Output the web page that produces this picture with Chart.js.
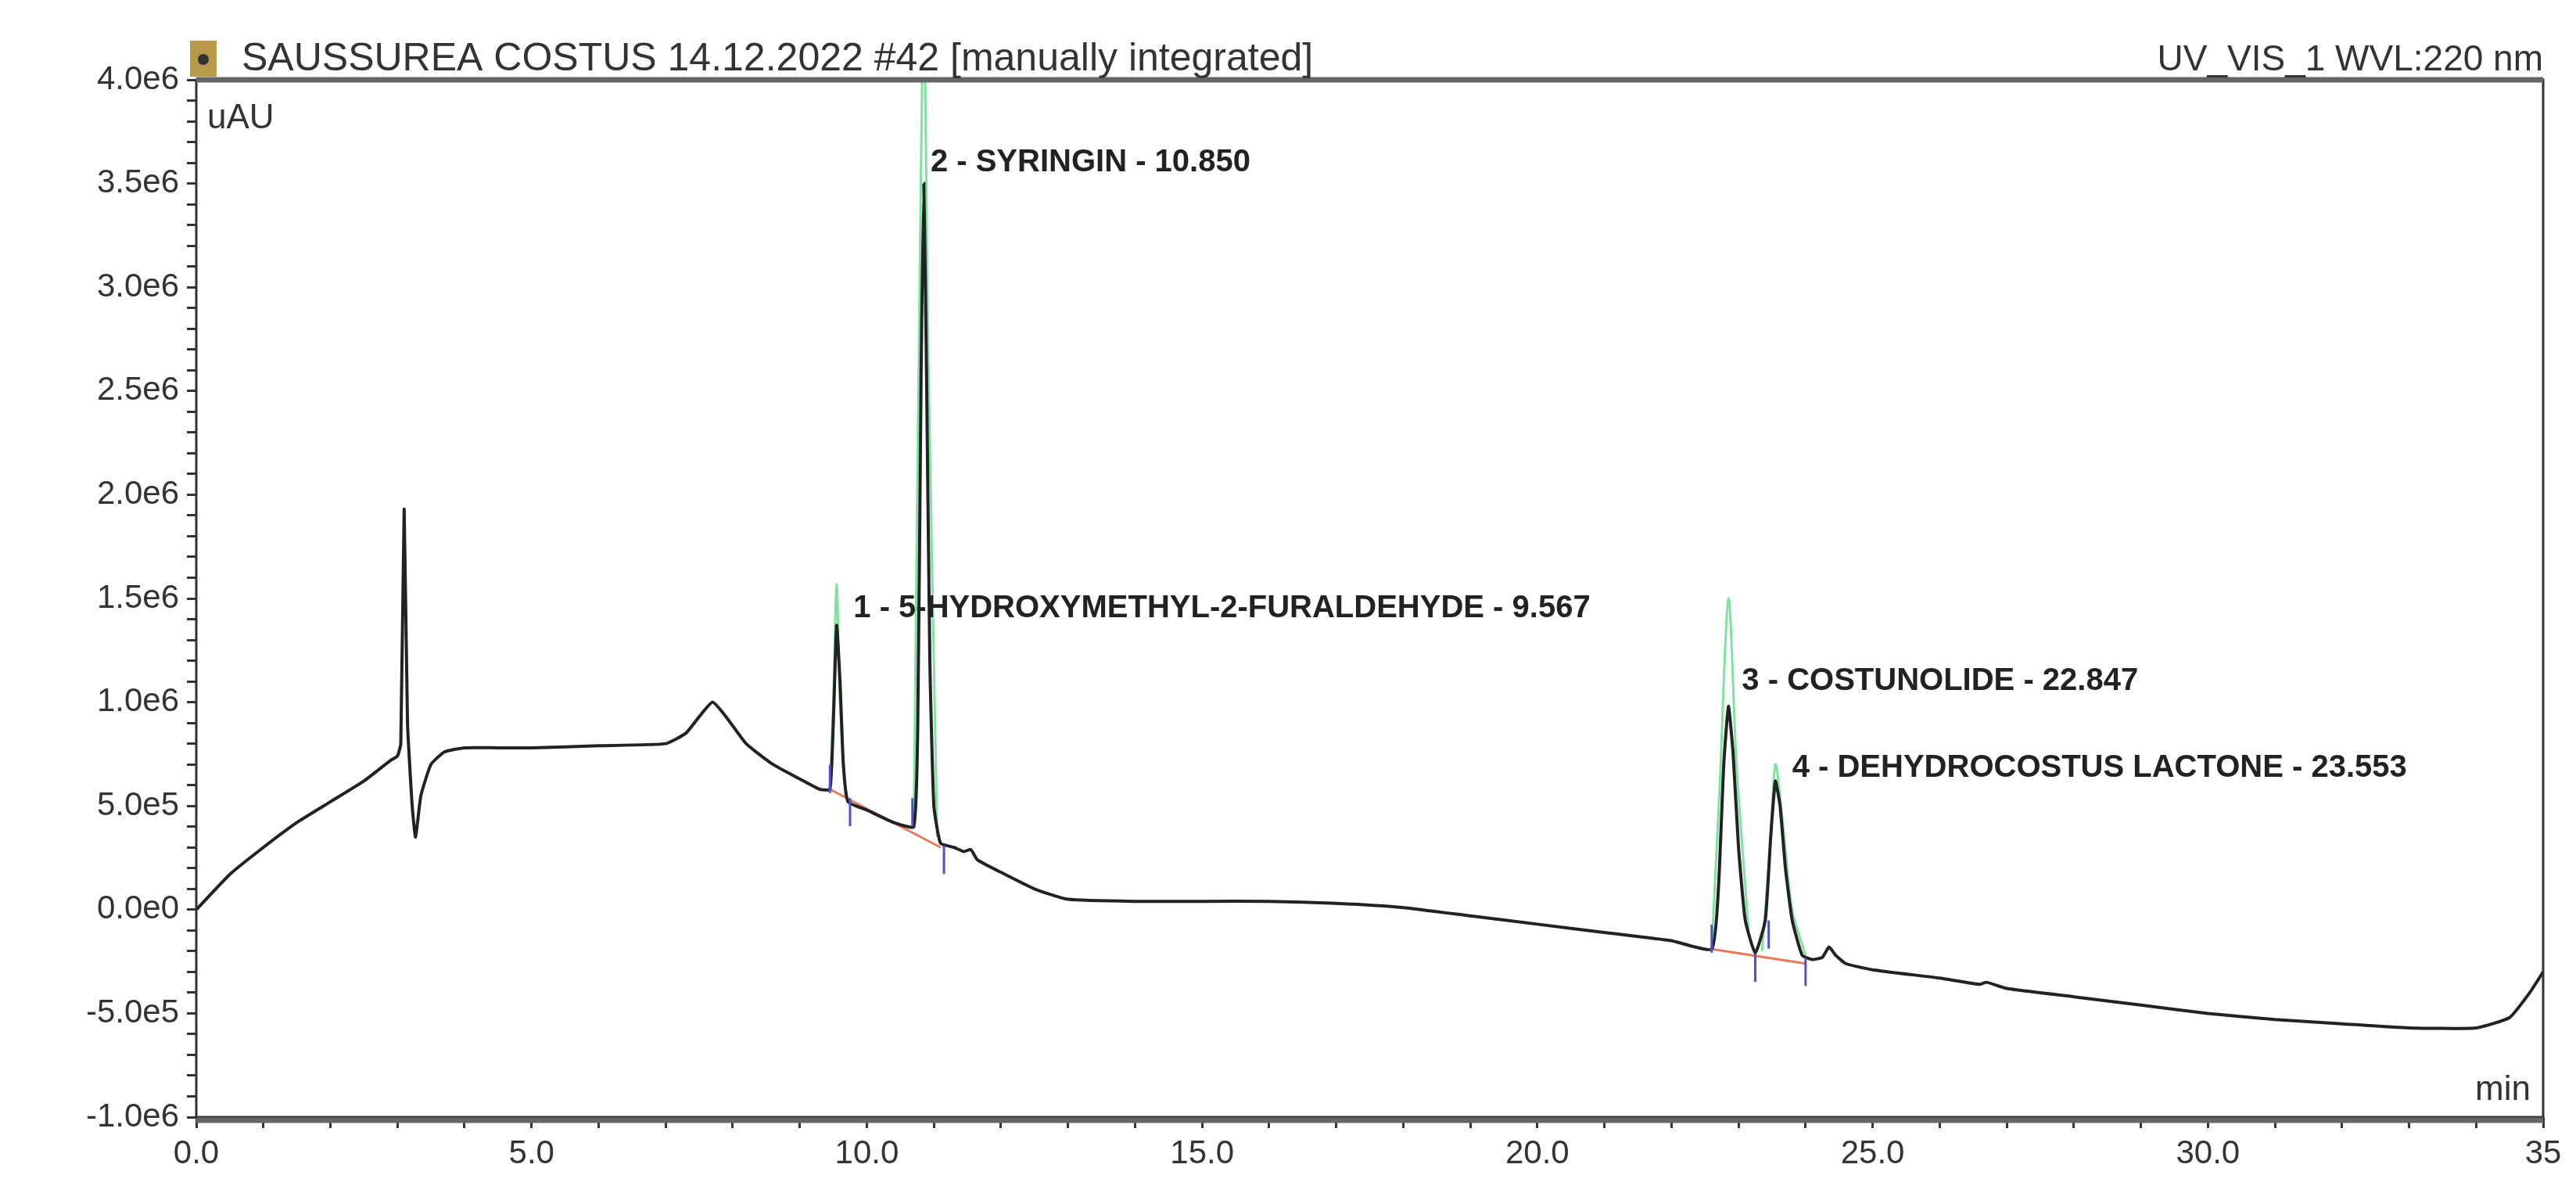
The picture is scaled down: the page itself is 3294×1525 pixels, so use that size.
<!DOCTYPE html>
<html>
<head>
<meta charset="utf-8">
<script src="https://cdn.jsdelivr.net/npm/chart.js@4.4.1/dist/chart.umd.min.js"></script>
<style>
  html, body { margin: 0; padding: 0; background: #fff; }
  #wrap { width: 3294px; height: 1525px; }
</style>
</head>
<body>
<div id="wrap"><canvas id="chrom"></canvas></div>
<script>
'use strict';

// ── Data (time in min, signal in 1e6 uAU) ───────────────────────────────────
var traceTime = [0, 0.5, 1.0, 1.5, 2.0, 2.5, 2.9, 3.0, 3.05, 3.1, 3.15, 3.22, 3.27, 3.35, 3.5, 3.7, 4.0, 4.5, 5, 6, 7, 7.3, 7.5, 7.7, 7.9, 8.2, 8.6, 9.0, 9.3, 9.45,
  9.5, 9.55, 9.6, 9.65, 9.72, 10.0, 10.4, 10.7, 10.76, 10.81, 10.85, 10.89, 10.94, 11.0, 11.1, 11.3, 11.45, 11.55, 11.65, 12, 12.5, 13, 14, 15, 16, 17, 18, 19, 20, 21, 22, 22.6,
  22.7, 22.78, 22.85, 22.92, 23.0, 23.1, 23.25, 23.4, 23.48, 23.55, 23.62, 23.7, 23.8, 23.95, 24.1, 24.25, 24.35, 24.45, 24.6, 25, 26, 26.6, 26.7, 27, 28, 29, 30, 31, 32, 33, 34, 34.5, 34.8, 35];
var traceSignal = [0, 0.17, 0.3, 0.42, 0.52, 0.62, 0.72, 0.74, 0.8, 1.93, 0.9, 0.5, 0.35, 0.55, 0.7, 0.76, 0.78, 0.78, 0.78, 0.79, 0.8, 0.85, 0.93, 1.0, 0.93, 0.8, 0.7, 0.63, 0.58, 0.58,
  0.9, 1.37, 1.1, 0.7, 0.52, 0.48, 0.42, 0.4, 0.9, 2.6, 3.5, 2.6, 1.2, 0.5, 0.32, 0.3, 0.28, 0.29, 0.24, 0.18, 0.1, 0.05, 0.04, 0.04, 0.04, 0.03, 0.01, -0.03, -0.07, -0.11, -0.15, -0.19,
  0.1, 0.7, 0.98, 0.75, 0.3, -0.05, -0.21, -0.05, 0.35, 0.62, 0.5, 0.2, -0.05, -0.22, -0.24, -0.23, -0.18, -0.22, -0.26, -0.29, -0.33, -0.36, -0.35, -0.38, -0.42, -0.46, -0.5, -0.53, -0.55, -0.57, -0.57, -0.52, -0.4, -0.3];

// fitted peaks (light green), null separates peaks
var fitTime   = [9.45, 9.5, 9.55, 9.6, 9.68, null, 10.7, 10.78, 10.85, 10.92, 11.05, null, 22.6, 22.72, 22.85, 22.97, 23.15, null, 23.35, 23.47, 23.55, 23.65, 23.8, 24.0];
var fitSignal = [0.58, 1.0, 1.57, 1.0, 0.55, null, 0.4, 2.8, 4.3, 2.6, 0.35, null, -0.19, 0.6, 1.5, 0.7, -0.1, null, -0.2, 0.3, 0.7, 0.45, 0.0, -0.22];

// integration baselines (red)
var baseTime   = [9.45, 11.1, null, 22.6, 24.0];
var baseSignal = [0.58, 0.3, null, -0.19, -0.26];

// peak delimiters (blue ticks)
var delimTime   = [9.45, 9.75, 10.68, 11.15, 22.6, 23.25, 23.45, 24.0];
var delimSignal = [0.63, 0.47, 0.47, 0.24, -0.14, -0.28, -0.12, -0.3];

var peakLabels = ['1 - 5-HYDROXYMETHYL-2-FURALDEHYDE - 9.567', '2 - SYRINGIN - 10.850', '3 - COSTUNOLIDE - 22.847', '4 - DEHYDROCOSTUS LACTONE - 23.553'];
var peakLabelTime   = [9.8, 10.95, 23.05, 23.8];
var peakLabelSignal = [1.45, 3.6, 1.1, 0.68];

var titleLeft  = 'SAUSSUREA COSTUS 14.12.2022 #42 [manually integrated]';
var titleRight = 'UV_VIS_1 WVL:220 nm';

function pts(xs, ys) {
  return xs.map(function (x, i) { return x === null ? { x: NaN, y: null } : { x: x, y: ys[i] * 1e6 }; });
}

var FONT = 'Liberation Sans, Arial, sans-serif';

var frame = {
  id: 'frame',
  afterDraw: function (chart) {
    var ctx = chart.ctx, a = chart.chartArea;
    var xs = chart.scales.x, ys = chart.scales.y;
    ctx.save();
    ctx.strokeStyle = '#333';
    ctx.lineWidth = 3;
    ctx.strokeRect(a.left, a.top, a.right - a.left, a.bottom - a.top);
    ctx.strokeStyle = '#666';
    ctx.lineWidth = 7;
    ctx.beginPath(); ctx.moveTo(a.left, a.top); ctx.lineTo(a.right, a.top); ctx.stroke();
    ctx.beginPath(); ctx.moveTo(a.left, a.bottom + 4); ctx.lineTo(a.right, a.bottom + 4); ctx.stroke();
    // icon
    ctx.fillStyle = '#b89a4a';
    ctx.fillRect(a.left - 8, a.top - 50, 34, 46);
    ctx.fillStyle = '#333';
    ctx.beginPath(); ctx.arc(a.left + 9, a.top - 26, 7, 0, Math.PI * 2); ctx.fill();
    // titles
    ctx.fillStyle = '#333';
    ctx.font = '50px ' + FONT;
    ctx.textBaseline = 'alphabetic';
    ctx.textAlign = 'left';
    ctx.fillText(titleLeft, a.left + 58, a.top - 12);
    ctx.font = '46px ' + FONT;
    ctx.textAlign = 'right';
    ctx.fillText(titleRight, a.right, a.top - 12);
    ctx.font = '44px ' + FONT;
    ctx.textAlign = 'left';
    ctx.fillText('uAU', a.left + 14, a.top + 62);
    ctx.textAlign = 'right';
    ctx.fillText('min', a.right - 16, a.bottom - 22);
    // peak labels
    ctx.font = 'bold 40px ' + FONT;
    ctx.textAlign = 'left';
    ctx.textBaseline = 'middle';
    ctx.fillStyle = '#222';
    peakLabels.forEach(function (t, i) {
      ctx.fillText(t, xs.getPixelForValue(peakLabelTime[i]), ys.getPixelForValue(peakLabelSignal[i] * 1e6));
    });
    ctx.restore();
  }
};

new Chart(document.getElementById('chrom').getContext('2d'), {
  type: 'scatter',
  data: {
    datasets: [
      { data: pts(fitTime, fitSignal), showLine: true, borderColor: '#7fe3a0', borderWidth: 3, pointRadius: 0, tension: 0.3, spanGaps: false, order: 3 },
      { data: pts(baseTime, baseSignal), showLine: true, borderColor: '#e87a5a', borderWidth: 3, pointRadius: 0, spanGaps: false, order: 2 },
      { data: pts(traceTime, traceSignal), showLine: true, borderColor: '#222', borderWidth: 4, pointRadius: 0, tension: 0.15, order: 1 },
      { data: pts(delimTime, delimSignal), showLine: false, pointStyle: 'line', rotation: 90, pointRadius: 18, borderColor: '#5050c8', borderWidth: 3, order: 0 }
    ]
  },
  options: {
    responsive: true,
    maintainAspectRatio: false,
    animation: false,
    devicePixelRatio: 1,
    layout: { padding: { top: 102, right: 42, left: 0, bottom: 0 } },
    plugins: { legend: { display: false }, tooltip: { enabled: false } },
    scales: {
      x: {
        type: 'linear', min: 0, max: 35,
        afterFit: function (s) { s.height = 97; },
        afterBuildTicks: function (s) { s.ticks = []; for (var i = 0; i <= 35; i++) s.ticks.push({ value: i }); },
        grid: { drawOnChartArea: false, drawTicks: true, tickLength: 14, color: '#333', lineWidth: 3 },
        border: { display: false },
        ticks: {
          autoSkip: false, maxRotation: 0, color: '#333', padding: 8,
          font: { size: 42, family: FONT },
          callback: function (v) { return v % 5 === 0 ? (v === 35 ? '35' : v.toFixed(1)) : ''; }
        }
      },
      y: {
        type: 'linear', min: -1e6, max: 4e6,
        afterFit: function (s) { s.width = 251; },
        afterBuildTicks: function (s) { s.ticks = []; for (var i = -10; i <= 40; i++) s.ticks.push({ value: i * 1e5 }); },
        grid: { drawOnChartArea: false, drawTicks: true, tickLength: 12, color: '#333', lineWidth: 3 },
        border: { display: false },
        ticks: {
          autoSkip: false, color: '#333', padding: 10,
          font: { size: 42, family: FONT },
          callback: function (v) {
            var k = Math.round(v / 1e5);
            if (k % 5 !== 0) return '';
            return Number(k * 1e5).toExponential(1).replace('+', '');
          }
        }
      }
    }
  },
  plugins: [frame]
});
</script>
</body>
</html>
